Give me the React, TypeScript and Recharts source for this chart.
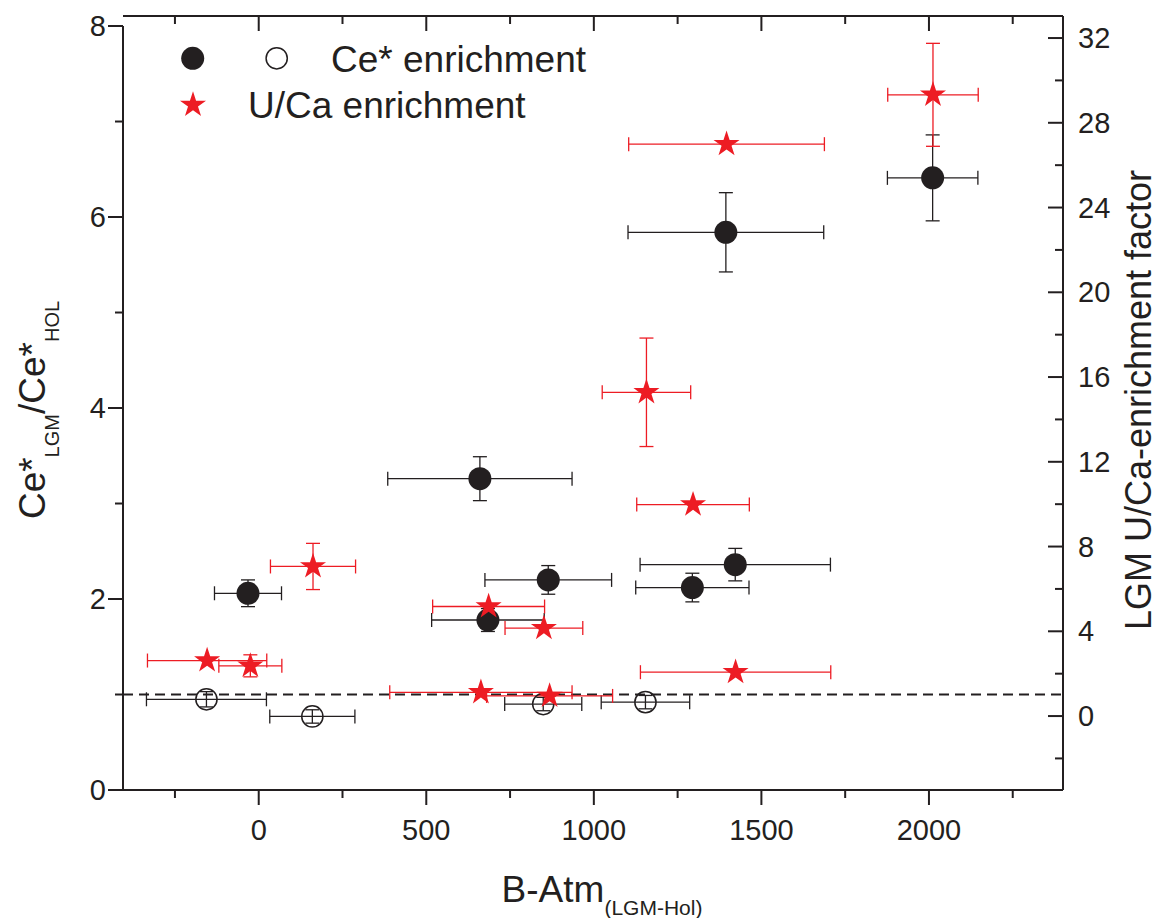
import React from 'react';
import { ScatterChart, Scatter, XAxis, YAxis, ErrorBar, ReferenceLine } from 'recharts';

const INK = '#231F20';
const RED = '#ED1C24';
const FONT = '"Liberation Sans", Arial, Helvetica, sans-serif';

// ---- Ce* enrichment (filled circles, left axis) ----
const ceFilledX = [-32, 660, 684, 864, 1294, 1422, 1394, 2011];
const ceFilledY = [2.06, 3.26, 1.78, 2.2, 2.12, 2.36, 5.84, 6.41];
const ceFilledXErr = [100, 275, 168, 189, 169, 284, 292, 135];
const ceFilledYErr = [0.14, 0.23, 0.12, 0.15, 0.15, 0.17, 0.415, 0.45];

// ---- Ce* enrichment (open circles, left axis) ----
const ceOpenX = [-156, 160, 849, 1154];
const ceOpenY = [0.95, 0.77, 0.9, 0.92];
const ceOpenXErr = [179, 127, 115, 132];
const ceOpenYErr = [0.08, 0.07, 0.07, 0.07];

// ---- U/Ca enrichment (stars, right axis) ----
const ucaX = [-154, -25, 162, 686, 851, 663, 868, 1157, 1296, 1423, 1396, 2012];
const ucaY = [2.62, 2.37, 7.06, 5.17, 4.15, 1.12, 0.95, 15.28, 9.98, 2.07, 26.99, 29.32];
const ucaXErr = [178, 94, 127, 167, 116, 272, 188, 132, 168, 284, 292, 135];
const ucaYErr = [0, 0.52, 1.09, 0, 0, 0, 0, 2.56, 0, 0, 0, 2.43];

// ---- axes ----
const X_DOMAIN = [-405, 2400];
const X_TICKS = [-250, 0, 250, 500, 750, 1000, 1250, 1500, 1750, 2000, 2250];
const LEFT_DOMAIN = [0, 8.105];
const LEFT_TICKS = [0, 1, 2, 3, 4, 5, 6, 7, 8];
const RIGHT_DOMAIN = [-3.49, 33.04];
const RIGHT_TICKS = [-2, 0, 2, 4, 6, 8, 10, 12, 14, 16, 18, 20, 22, 24, 26, 28, 30, 32];

const build = (xs: number[], ys: number[], exs: number[], eys: number[]) =>
  xs.map((x, i) => ({ x, y: ys[i], ex: exs[i], ey: eys[i] }));

const ceFilledData = build(ceFilledX, ceFilledY, ceFilledXErr, ceFilledYErr);
const ceOpenData = build(ceOpenX, ceOpenY, ceOpenXErr, ceOpenYErr);
const ucaData = build(ucaX, ucaY, ucaXErr, ucaYErr);

const starPoints = (cx: number, cy: number, R: number) => {
  const pts: string[] = [];
  for (let i = 0; i < 10; i++) {
    const a = ((-90 + i * 36) * Math.PI) / 180;
    const r = i % 2 === 0 ? R : R * 0.382;
    pts.push(`${cx + r * Math.cos(a)},${cy + r * Math.sin(a)}`);
  }
  return pts.join(' ');
};

const FilledCircle = (p: any) => <circle cx={p.cx} cy={p.cy} r={11.5} fill={INK} />;
const OpenCircle = (p: any) => (
  <circle cx={p.cx} cy={p.cy} r={10.6} fill="none" stroke={INK} strokeWidth={1.5} />
);
const Star = (p: any) => <polygon points={starPoints(p.cx, p.cy, 13.7)} fill={RED} />;

const BottomTick = (props: any) => {
  const { x, y, payload } = props;
  const major = payload.value % 500 === 0;
  return (
    <g>
      <line x1={x} x2={x} y1={y} y2={y + (major ? 15 : 8)} stroke={INK} strokeWidth={2} />
      {major && (
        <text x={x} y={y + 50} textAnchor="middle" fontSize={29} fill={INK} fontFamily={FONT}>
          {payload.value}
        </text>
      )}
    </g>
  );
};

const TopTick = (props: any) => {
  const { x, y, payload } = props;
  const major = payload.value % 500 === 0;
  return <line x1={x} x2={x} y1={y} y2={y + (major ? 15 : 8)} stroke={INK} strokeWidth={2} />;
};

const LeftTick = (props: any) => {
  const { x, y, payload } = props;
  const major = payload.value % 2 === 0;
  return (
    <g>
      <line x1={x - (major ? 15 : 8)} x2={x} y1={y} y2={y} stroke={INK} strokeWidth={2} />
      {major && (
        <text x={x - 17} y={y + 10} textAnchor="end" fontSize={29} fill={INK} fontFamily={FONT}>
          {payload.value}
        </text>
      )}
    </g>
  );
};

const RightTick = (props: any) => {
  const { x, y, payload } = props;
  const major = payload.value % 4 === 0;
  return (
    <g>
      <line x1={x - (major ? 15 : 8)} x2={x} y1={y} y2={y} stroke={INK} strokeWidth={2} />
      {major && (
        <text x={x + 15} y={y + 10} textAnchor="start" fontSize={29} fill={INK} fontFamily={FONT}>
          {payload.value}
        </text>
      )}
    </g>
  );
};

export default function App() {
  return (
    <div style={{ position: 'relative', width: 1160, height: 918, background: '#fff' }}>
      <style>{`html,body{margin:0;padding:0;overflow:hidden;background:#fff}`}</style>
      <ScatterChart width={1160} height={918} margin={{ top: 0, right: 0, bottom: 0, left: 0 }}>
        <XAxis
          xAxisId="bottom"
          dataKey="x"
          type="number"
          orientation="bottom"
          domain={X_DOMAIN}
          allowDataOverflow
          ticks={X_TICKS}
          interval={0}
          height={128}
          tickSize={0}
          tickMargin={0}
          tickLine={false}
          axisLine={{ stroke: INK, strokeWidth: 2 }}
          tick={BottomTick}
        />
        <XAxis
          xAxisId="top"
          dataKey="x"
          type="number"
          orientation="top"
          domain={X_DOMAIN}
          allowDataOverflow
          ticks={X_TICKS}
          interval={0}
          height={16}
          tickSize={0}
          tickMargin={0}
          tickLine={false}
          axisLine={{ stroke: INK, strokeWidth: 2 }}
          tick={TopTick}
        />
        <YAxis
          yAxisId="left"
          dataKey="y"
          type="number"
          orientation="left"
          domain={LEFT_DOMAIN}
          allowDataOverflow
          ticks={LEFT_TICKS}
          interval={0}
          width={123}
          tickSize={0}
          tickMargin={0}
          tickLine={false}
          axisLine={false}
          tick={LeftTick}
        />
        <YAxis
          yAxisId="right"
          dataKey="y"
          type="number"
          orientation="right"
          domain={RIGHT_DOMAIN}
          allowDataOverflow
          ticks={RIGHT_TICKS}
          interval={0}
          width={97}
          tickSize={0}
          tickMargin={0}
          tickLine={false}
          axisLine={{ stroke: INK, strokeWidth: 2 }}
          tick={RightTick}
        />
        <ReferenceLine
          xAxisId="bottom"
          yAxisId="left"
          segment={[
            { x: X_DOMAIN[0], y: 0 },
            { x: X_DOMAIN[0], y: 8 },
          ]}
          stroke={INK}
          strokeWidth={2}
          ifOverflow="visible"
        />
        <ReferenceLine
          xAxisId="bottom"
          yAxisId="left"
          y={1}
          stroke={INK}
          strokeWidth={1.8}
          strokeDasharray="10 6"
        />
        <Scatter
          name="Ce* enrichment"
          data={ceFilledData}
          xAxisId="bottom"
          yAxisId="left"
          shape={FilledCircle}
          isAnimationActive={false}
        >
          <ErrorBar dataKey="ex" direction="x" width={7} stroke={INK} strokeWidth={1.3} />
          <ErrorBar dataKey="ey" direction="y" width={7} stroke={INK} strokeWidth={1.3} />
        </Scatter>
        <Scatter
          name="Ce* enrichment (open)"
          data={ceOpenData}
          xAxisId="bottom"
          yAxisId="left"
          shape={OpenCircle}
          isAnimationActive={false}
        >
          <ErrorBar dataKey="ex" direction="x" width={7} stroke={INK} strokeWidth={1.3} />
          <ErrorBar dataKey="ey" direction="y" width={7} stroke={INK} strokeWidth={1.3} />
        </Scatter>
        <Scatter
          name="U/Ca enrichment"
          data={ucaData}
          xAxisId="bottom"
          yAxisId="right"
          shape={Star}
          isAnimationActive={false}
        >
          <ErrorBar dataKey="ex" direction="x" width={7} stroke={RED} strokeWidth={1.3} />
          <ErrorBar dataKey="ey" direction="y" width={7} stroke={RED} strokeWidth={1.3} />
        </Scatter>
      </ScatterChart>
      <svg
        width={1160}
        height={918}
        style={{ position: 'absolute', left: 0, top: 0, pointerEvents: 'none' }}
      >
        {/* legend */}
        <circle cx={192.7} cy={58.3} r={11.5} fill={INK} />
        <circle cx={276.7} cy={58.3} r={10.6} fill="none" stroke={INK} strokeWidth={1.5} />
        <text x={331} y={71.7} fontSize={37} fill={INK} fontFamily={FONT}>
          Ce* enrichment
        </text>
        <polygon points={starPoints(193, 105, 13.7)} fill={RED} />
        <text x={248} y={118} fontSize={37} fill={INK} fontFamily={FONT}>
          U/Ca enrichment
        </text>
        {/* x-axis title */}
        <text x={602} y={901.7} textAnchor="middle" fill={INK} fontFamily={FONT}>
          <tspan fontSize={37}>B-Atm</tspan>
          <tspan fontSize={21} dy={13}>(LGM-Hol)</tspan>
        </text>
        {/* left axis title */}
        <text
          x={45}
          y={410}
          transform="rotate(-90, 45, 410)"
          textAnchor="middle"
          fill={INK}
          fontFamily={FONT}
        >
          <tspan fontSize={37}>Ce*</tspan>
          <tspan fontSize={20} dy={14}>LGM</tspan>
          <tspan fontSize={37} dy={-14}>/Ce*</tspan>
          <tspan fontSize={20} dy={14}>HOL</tspan>
        </text>
        {/* right axis title */}
        <text
          x={1151}
          y={400}
          transform="rotate(-90, 1151, 400)"
          textAnchor="middle"
          fontSize={36}
          fill={INK}
          fontFamily={FONT}
        >
          LGM U/Ca-enrichment factor
        </text>
      </svg>
    </div>
  );
}
